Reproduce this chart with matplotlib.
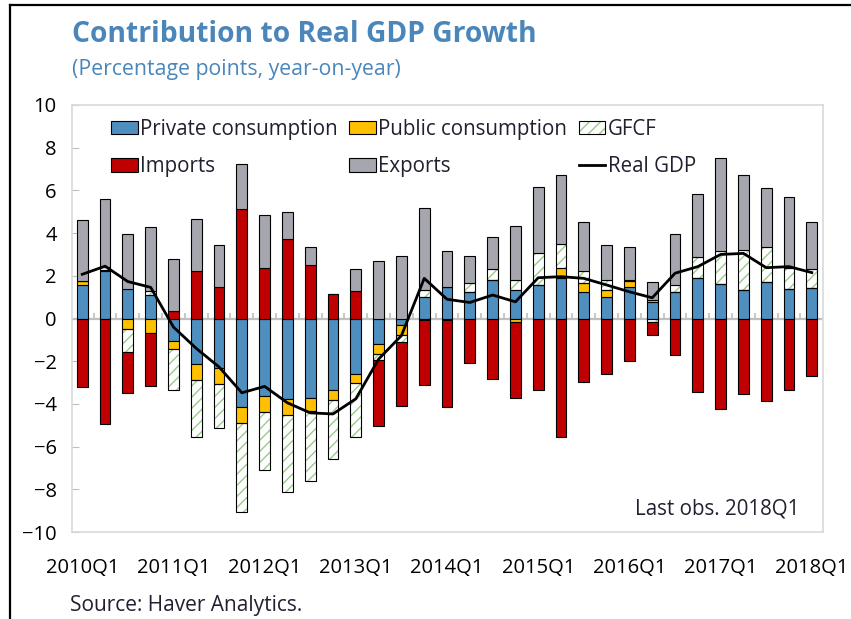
import numpy as np
import matplotlib
matplotlib.use("Agg")
import matplotlib.pyplot as plt
from matplotlib.patches import Patch
from matplotlib.lines import Line2D

plt.rcParams["font.family"] = ["Open Sans", "DejaVu Sans"]
plt.rcParams["hatch.linewidth"] = 1.0

# quarterly data 2010Q1 - 2018Q1 (percentage points)
quarters = [f"{y}Q{q}" for y in range(2010, 2019) for q in range(1, 5)][:33]

private = [1.57, 2.23, 1.38, 1.10, -1.05, -2.15, -2.32, -4.13, -3.65, -3.76, -3.73,
           -3.37, -2.59, -1.21, -0.31, 1.02, 1.49, 1.25, 1.80, 1.33, 1.57, 1.91,
           1.25, 1.02, 1.47, 0.78, 1.25, 1.91, 1.60, 1.33, 1.73, 1.38, 1.41]
public = [0.19, 0.05, -0.47, -0.70, -0.39, -0.75, -0.77, -0.77, -0.71, -0.74, -0.58,
          -0.47, -0.44, -0.44, -0.47, -0.05, -0.05, 0.0, 0.0, -0.15, 0.0, 0.44,
          0.40, 0.31, 0.30, 0.10, 0.0, 0.0, 0.0, 0.0, 0.0, 0.0, 0.0]
gfcf = [0.0, 0.15, -1.10, 0.20, -1.93, -2.64, -2.06, -4.17, -2.74, -3.63, -3.29,
        -2.72, -2.51, -0.31, -0.32, 0.31, 0.0, 0.40, 0.52, 0.47, 1.49, 1.15,
        0.58, 0.47, 0.05, -0.15, 0.30, 0.96, 1.54, 1.89, 1.60, 0.97, 0.90]
imports = [-3.22, -4.94, -1.93, -2.48, 0.36, 2.23, 1.49, 5.15, 2.35, 3.72, 2.51,
           1.13, 1.30, -3.09, -2.98, -3.06, -4.10, -2.09, -2.82, -3.58, -3.37, -5.54,
           -2.98, -2.62, -2.00, -0.63, -1.69, -3.45, -4.24, -3.53, -3.87, -3.37, -2.67]
exports = [2.87, 3.17, 2.59, 2.98, 2.42, 2.45, 1.96, 2.10, 2.48, 1.27, 0.86,
           0.0, 1.02, 2.71, 2.95, 3.85, 1.69, 1.30, 1.52, 2.51, 3.10, 3.20,
           2.29, 1.65, 1.55, 0.84, 2.43, 2.98, 4.36, 3.50, 2.79, 3.34, 2.21]
real_gdp = [2.07, 2.45, 1.73, 1.46, -0.40, -1.40, -2.27, -3.48, -3.18, -3.95, -4.42,
            -4.47, -3.76, -1.90, -0.80, 1.88, 0.90, 0.75, 1.10, 0.78, 1.91, 1.96,
            1.88, 1.57, 1.25, 0.97, 2.12, 2.43, 3.00, 3.05, 2.38, 2.43, 2.15]

c_priv = "#4F8FC0"
c_pub = "#FFC000"
c_imp = "#C00000"
c_exp = "#A6A6AE"
c_hatch = "#9ACB88"
c_title = "#4A86BA"
c_text = "#202030"

fig = plt.figure(figsize=(8.51, 6.19), dpi=100)
ax = fig.add_axes([72 / 851, 1 - 532 / 619, 751 / 851, 427 / 619])

x = np.arange(len(quarters))
w = 0.47
pos = np.zeros(len(x))
neg = np.zeros(len(x))

series = [("Private consumption", private, c_priv, None),
          ("Public consumption", public, c_pub, None),
          ("GFCF", gfcf, "white", "///"),
          ("Imports", imports, c_imp, None),
          ("Exports", exports, c_exp, None)]

handles = {}
for name, vals, col, hatch in series:
    v = np.array(vals)
    bottom = np.where(v >= 0, pos, neg)
    if hatch:
        ax.bar(x, v, w, bottom=bottom, color="white", edgecolor=c_hatch,
               hatch=hatch, linewidth=0, zorder=2)
        ax.bar(x, v, w, bottom=bottom, fill=False, edgecolor="black",
               linewidth=0.8, zorder=3)
        handles[name] = (Patch(facecolor="white", edgecolor=c_hatch, hatch=hatch, linewidth=0),
                         Patch(fill=False, edgecolor="black", linewidth=0.8))
    else:
        ax.bar(x, v, w, bottom=bottom, color=col, edgecolor="black",
               linewidth=0.8, zorder=3)
        handles[name] = Patch(facecolor=col, edgecolor="black", linewidth=0.8)
    pos = pos + np.where(v >= 0, v, 0)
    neg = neg + np.where(v < 0, v, 0)

ax.plot(x, real_gdp, color="black", linewidth=2.0, zorder=5)
handles["Real GDP"] = Line2D([], [], color="black", linewidth=2.0)

# zero line with category tick marks
ax.axhline(0, color="#BFBFBF", linewidth=1.6, zorder=1)
ax.vlines(x[:-1] + 0.5, 0, 0.28, color="#BFBFBF", linewidth=1.2, zorder=1)

ax.set_ylim(-10, 10)
ax.set_xlim(-0.45, 32.49)
ax.set_yticks(np.arange(-10, 11, 2))
ax.set_xticks(x[::4])
ax.set_xticklabels(quarters[::4])
ax.tick_params(axis="x", length=0, pad=19, labelsize=14.5, labelcolor="black")
ax.tick_params(axis="y", direction="in", length=5, color="#BFBFBF", pad=11,
               labelsize=14.5, labelcolor="black")
for s in ax.spines.values():
    s.set_color("#D9D9D9")
    s.set_linewidth(1.2)

order = ["Private consumption", "Imports", "Public consumption", "Exports", "GFCF", "Real GDP"]
ax.legend([handles[k] for k in order], order, ncol=3, loc="upper left",
          bbox_to_anchor=(0.052, 0.968), frameon=False, fontsize=14.8,
          handlelength=1.3, handleheight=0.65, handletextpad=0.12,
          columnspacing=0.55, labelspacing=0.8, borderpad=0, borderaxespad=0,
          labelcolor=c_text)

ax.text(0.969, 0.055, "Last obs. 2018Q1", transform=ax.transAxes, ha="right",
        va="center", fontsize=14.8, color=c_text)

fig.text(72 / 851, 1 - 35 / 619, "Contribution to Real GDP Growth", fontsize=20.3,
         fontweight="bold", color=c_title, va="center")
fig.text(72 / 851, 1 - 70 / 619, "(Percentage points, year-on-year)", fontsize=15.3,
         color=c_title, va="center")
fig.text(70 / 851, 1 - 605 / 619, "Source: Haver Analytics.", fontsize=15,
         color=c_text, va="center")

# outer frame (left and top edges visible)
fig.add_artist(Line2D([10 / 851, 10 / 851], [0, 1 - 5 / 619], color="black",
                      linewidth=1.6, transform=fig.transFigure))
fig.add_artist(Line2D([10 / 851, 1], [1 - 5 / 619, 1 - 5 / 619], color="black",
                      linewidth=1.6, transform=fig.transFigure))

fig.savefig("out.png", dpi=100)
